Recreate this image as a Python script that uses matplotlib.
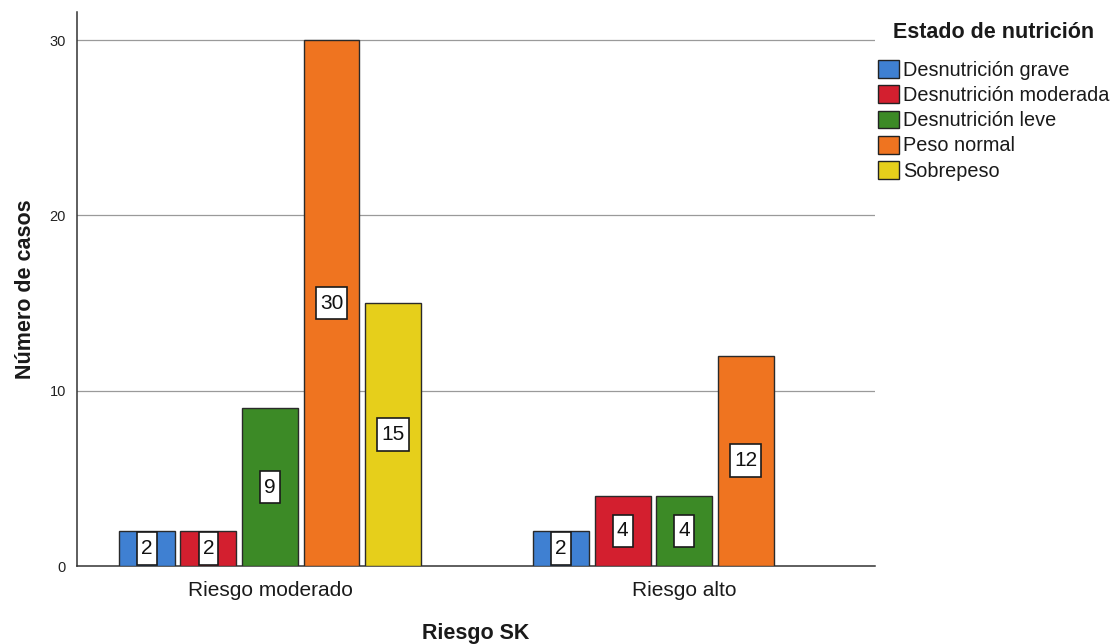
import matplotlib
matplotlib.use("Agg")
import matplotlib.pyplot as plt
import numpy as np
from matplotlib.patches import Patch
from matplotlib.path import Path

plt.rcParams['font.family'] = ['Liberation Sans', 'DejaVu Sans']

# Data
groups = ["Riesgo moderado", "Riesgo alto"]
series = ["Desnutrición grave", "Desnutrición moderada", "Desnutrición leve",
          "Peso normal", "Sobrepeso"]
values = {
    "Desnutrición grave":    [2, 2],
    "Desnutrición moderada": [2, 4],
    "Desnutrición leve":     [9, 4],
    "Peso normal":           [30, 12],
    "Sobrepeso":             [15, None],
}
colors = ["#3f80d2", "#d31f2f", "#3c8a26", "#ef7420", "#e6cf1b"]
y_ticks = [0, 10, 20, 30]


def label_box(x0, y0, width, height, mutation_size):
    """Rectangular label frame, padded more vertically than horizontally."""
    px = 0.2 * mutation_size
    py = 0.33 * mutation_size
    x0, y0 = x0 - px, y0 - py
    x1, y1 = x0 + width + 2 * px, y0 + height + 2 * py
    return Path([(x0, y0), (x1, y0), (x1, y1), (x0, y1), (x0, y0)],
                closed=True)


fig = plt.figure(figsize=(11.17, 6.44), dpi=100)
ax = fig.add_axes([77 / 1117, 78 / 644, 798 / 1117, 554 / 644])

slot = 0.1486
width = 0.135
x = np.arange(len(groups))
n = len(series)
for i, (name, col) in enumerate(zip(series, colors)):
    for g, v in enumerate(values[name]):
        if v is None:
            continue
        xpos = x[g] + (i - (n - 1) / 2) * slot
        ax.bar(xpos, v, width=width, color=col, edgecolor="#2a2a2a",
               linewidth=1.0, zorder=3)
        ax.text(xpos, v / 2, str(v), ha="center", va="center", fontsize=15,
                color="#111111", zorder=5,
                bbox=dict(boxstyle=label_box, facecolor="white",
                          edgecolor="#1a1a1a", linewidth=1.2))

ax.set_xlim(-0.466, 1.461)
ax.set_ylim(0, 31.6)
ax.set_yticks(y_ticks)
ax.set_yticklabels([str(t) for t in y_ticks], fontsize=10.5, color="#222222")
ax.set_xticks(x)
ax.set_xticklabels(groups, fontsize=15, color="#1a1a1a")
ax.tick_params(axis="x", length=0, pad=11)
ax.tick_params(axis="y", length=0, pad=8)

for t in y_ticks[1:]:
    ax.axhline(t, color="#9a9a9a", linewidth=0.9, zorder=1)

for s in ["top", "right"]:
    ax.spines[s].set_visible(False)
for s in ["left", "bottom"]:
    ax.spines[s].set_color("#333333")
    ax.spines[s].set_linewidth(1.1)

ax.set_ylabel("Número de casos", fontsize=15.5, fontweight="bold",
              color="#1a1a1a", labelpad=10)
ax.set_xlabel("Riesgo SK", fontsize=15.5, fontweight="bold",
              color="#1a1a1a", labelpad=16)

# Legend
fig.text(893 / 1117, 1 - 33 / 644, "Estado de nutrición", fontsize=15.5,
         fontweight="bold", ha="left", va="center", color="#1a1a1a")
handles = [Patch(facecolor=c, edgecolor="#222222", linewidth=1.0) for c in colors]
leg = fig.legend(handles, series, loc="upper left",
                 bbox_to_anchor=(878 / 1117, 1 - 60 / 644),
                 frameon=False, fontsize=14.3, handlelength=1.05,
                 handleheight=1.0, handletextpad=0.2, labelspacing=0.28,
                 borderpad=0, borderaxespad=0)
for t in leg.get_texts():
    t.set_color("#1a1a1a")

fig.savefig("out.png", dpi=100)
